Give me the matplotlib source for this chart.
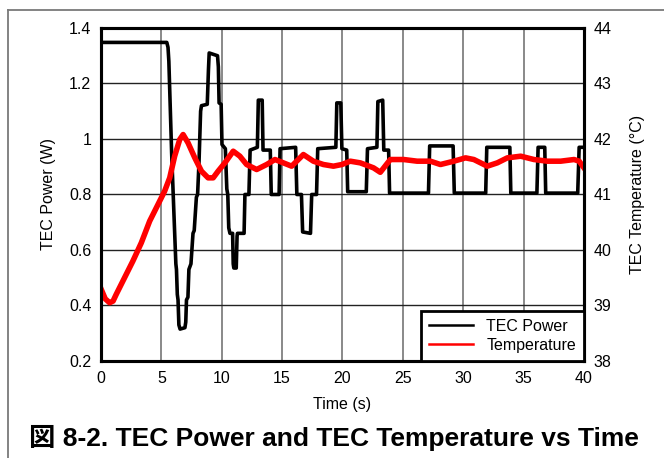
import matplotlib
matplotlib.use("Agg")
import matplotlib.pyplot as plt
from matplotlib.lines import Line2D

plt.rcParams["font.family"] = ["Liberation Sans", "Noto Sans CJK JP", "DejaVu Sans"]

# TEC power (W) breakpoints over time (s)
t_power = [0.0, 5.45, 5.55, 5.62, 5.85, 6.05, 6.20, 6.25, 6.32, 6.38, 6.45, 6.55,
           6.95, 7.02, 7.08, 7.20, 7.28, 7.45, 7.62, 7.72, 7.90, 8.00, 8.12, 8.25,
           8.32, 8.80, 8.90, 8.96, 9.65, 9.72, 9.78, 9.95, 10.02, 10.30, 10.42,
           10.50, 10.58, 10.68, 10.90, 10.95, 11.00, 11.20, 11.27, 11.30, 11.85,
           11.92, 12.25, 12.35, 12.95, 13.03, 13.35, 13.42, 14.02, 14.10, 14.75,
           14.83, 16.12, 16.22, 16.60, 16.70, 17.35, 17.45, 17.85, 17.95, 19.45,
           19.53, 19.86, 19.95, 20.35, 20.43, 21.97, 22.07, 22.85, 22.93, 23.33,
           23.42, 23.82, 23.90, 27.12, 27.22, 29.16, 29.26, 31.86, 31.95, 33.86,
           33.94, 36.10, 36.20, 36.75, 36.83, 39.48, 39.60, 40.0]
power = [1.348, 1.348, 1.33, 1.28, 0.95, 0.72, 0.55, 0.53, 0.44, 0.42, 0.33, 0.315,
         0.32, 0.34, 0.42, 0.43, 0.53, 0.55, 0.66, 0.67, 0.79, 0.80, 0.92, 1.10,
         1.12, 1.125, 1.25, 1.31, 1.30, 1.26, 1.13, 1.125, 0.98, 0.965, 0.82,
         0.80, 0.68, 0.66, 0.66, 0.55, 0.535, 0.535, 0.65, 0.66, 0.66,
         0.80, 0.80, 0.96, 0.97, 1.14, 1.14, 0.96, 0.96, 0.80, 0.80,
         0.965, 0.97, 0.80, 0.80, 0.665, 0.66, 0.80, 0.80, 0.965, 0.97,
         1.13, 1.13, 0.965, 0.96, 0.81, 0.81, 0.965, 0.97, 1.135, 1.14,
         0.96, 0.96, 0.805, 0.805, 0.975, 0.975, 0.805, 0.805, 0.97, 0.97,
         0.805, 0.805, 0.97, 0.97, 0.805, 0.805, 0.97, 0.97]

# TEC temperature (degC) over time (s)
t_temp = [0.0, 0.35, 0.71, 1.0, 1.26, 1.95, 2.64, 3.34, 4.03, 4.72, 5.27, 5.69,
          6.10, 6.52, 6.80, 7.21, 7.77, 8.32, 8.87, 9.29, 9.70, 10.26, 10.95,
          11.5, 12.06, 12.89, 13.72, 14.41, 15.1, 15.79, 16.76, 17.59, 18.42,
          19.25, 19.95, 20.64, 21.47, 22.57, 23.13, 23.96, 25.07, 26.18, 27.28,
          28.11, 29.22, 30.19, 30.88, 31.99, 32.82, 33.65, 34.76, 35.86, 36.97,
          38.07, 39.18, 39.6, 40.0]
temp = [39.30, 39.12, 39.05, 39.08, 39.20, 39.50, 39.80, 40.13, 40.52, 40.82,
        41.06, 41.30, 41.69, 41.99, 42.08, 41.93, 41.66, 41.42, 41.30, 41.30,
        41.42, 41.57, 41.78, 41.69, 41.54, 41.45, 41.54, 41.63, 41.57, 41.51,
        41.72, 41.60, 41.54, 41.51, 41.54, 41.60, 41.57, 41.48, 41.40, 41.63,
        41.63, 41.60, 41.60, 41.54, 41.60, 41.66, 41.63, 41.51, 41.57, 41.66,
        41.69, 41.63, 41.60, 41.60, 41.63, 41.60, 41.48]

x_ticks = [0, 5, 10, 15, 20, 25, 30, 35, 40]
power_ticks = [0.2, 0.4, 0.6, 0.8, 1.0, 1.2, 1.4]
power_tick_labels = ["0.2", "0.4", "0.6", "0.8", "1", "1.2", "1.4"]
temp_ticks = [38, 39, 40, 41, 42, 43, 44]

fig = plt.figure(figsize=(6.64, 4.58), dpi=100)
ax = fig.add_axes([0.1521, 0.2118, 0.7274, 0.7271])
ax2 = ax.twinx()

ax.plot(t_power, power, color="black", lw=2.6, solid_joinstyle="round")
ax2.plot(t_temp, temp, color="#ff0000", lw=4.0, solid_joinstyle="round")

ax.set_xlim(0, 40)
ax.set_ylim(0.2, 1.4)
ax2.set_ylim(38, 44)
ax.set_xticks(x_ticks)
ax.set_yticks(power_ticks)
ax.set_yticklabels(power_tick_labels)
ax2.set_yticks(temp_ticks)

ax.set_axisbelow(True)
ax.xaxis.grid(True, color="#6a6a6a", lw=1.1)
ax.yaxis.grid(True, color="#222222", lw=1.0)

for a in (ax, ax2):
    a.tick_params(length=0, pad=7, labelsize=11.5)
    for s in a.spines.values():
        s.set_linewidth(2.2)
        s.set_color("black")

ax.set_xlabel("Time (s)", fontsize=11.5, labelpad=8)
ax.set_ylabel("TEC Power (W)", fontsize=11.5, labelpad=9)
ax2.set_ylabel("TEC Temperature (°C)", fontsize=11.5, labelpad=13)

handles = [Line2D([], [], color="black", lw=1.8),
           Line2D([], [], color="#ff0000", lw=1.8)]
leg = ax2.legend(handles, ["TEC Power", "Temperature"], loc="lower right",
                 borderaxespad=0, fancybox=False, framealpha=1, fontsize=11.5,
                 handlelength=2.8, handletextpad=0.8, borderpad=0.5,
                 labelspacing=0.25)
leg.get_frame().set_edgecolor("black")
leg.get_frame().set_linewidth(2.0)

# page frame around the figure block
fig.add_artist(Line2D([7.5 / 664, 1.0], [1 - 9.5 / 458, 1 - 9.5 / 458],
                      color="#7a7a7a", lw=1.3))
fig.add_artist(Line2D([7.5 / 664, 7.5 / 664], [0.0, 1 - 9.5 / 458],
                      color="#7a7a7a", lw=1.3))

fig.text(0.503, 1 - 438 / 458, "図 8-2. TEC Power and TEC Temperature vs Time",
         ha="center", va="center", fontsize=19, fontweight="bold")

fig.savefig("out.png", dpi=100)
